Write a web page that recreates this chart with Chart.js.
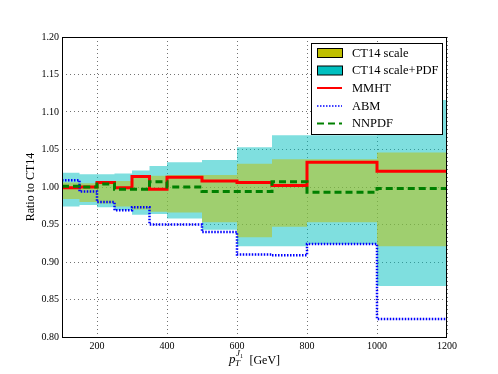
<!DOCTYPE html>
<html>
<head>
<meta charset="utf-8">
<script src="https://cdn.jsdelivr.net/npm/chart.js@4.4.1/dist/chart.umd.min.js"></script>
<style>
html, body { margin: 0; padding: 0; background: #fff; }
canvas { display: block; }
</style>
</head>
<body>
<canvas id="myChart" width="498" height="374"></canvas>
<script>
// bin edges in pT (GeV), one value per bin below
const binEdges = [100, 150, 200, 250, 300, 350, 400, 500, 600, 700, 800, 1000, 1200];

const mmht  = [0.999, 1.000, 1.006, 0.999, 1.014, 0.997, 1.013, 1.008, 1.006, 1.002, 1.033, 1.021];
const abm   = [1.009, 0.994, 0.980, 0.969, 0.973, 0.950, 0.950, 0.940, 0.910, 0.909, 0.924, 0.824];
const nnpdf = [1.001, 1.000, 1.004, 0.997, 0.997, 1.007, 1.000, 0.994, 0.994, 1.007, 0.993, 0.998];

const scaleHi = [1.006, 1.005, 1.007, 1.008, 1.014, 1.015, 1.016, 1.016, 1.031, 1.037, 1.037, 1.046];
const scaleLo = [0.984, 0.980, 0.978, 0.974, 0.970, 0.967, 0.966, 0.953, 0.933, 0.947, 0.953, 0.921];
const pdfHi   = [1.019, 1.017, 1.017, 1.018, 1.022, 1.028, 1.033, 1.036, 1.053, 1.069, 1.069, 1.116];
const pdfLo   = [0.974, 0.976, 0.973, 0.969, 0.963, 0.964, 0.958, 0.943, 0.921, 0.921, 0.924, 0.868];

const xTicks = [200, 400, 600, 800, 1000, 1200];
const yTicks = [0.80, 0.85, 0.90, 0.95, 1.00, 1.05, 1.10, 1.15, 1.20];

const legendLabels = ['CT14 scale', 'CT14 scale+PDF', 'MMHT', 'ABM', 'NNPDF'];

const SERIF = '"Liberation Serif", "DejaVu Serif", serif';

// histogram style: each bin value starts at its left edge, last one repeated at the right edge
function stepPoints(values) {
    const pts = values.map((v, i) => ({ x: binEdges[i], y: v }));
    pts.push({ x: binEdges[binEdges.length - 1], y: values[values.length - 1] });
    return pts;
}

function lineSet(label, values, color, width, dash) {
    return {
        label: label,
        data: stepPoints(values),
        borderColor: color,
        borderWidth: width,
        borderDash: dash,
        borderCapStyle: 'butt',
        pointRadius: 0,
        stepped: 'before',
        fill: false
    };
}

function bandSet(label, values, fillColor, fill) {
    return {
        label: label,
        data: stepPoints(values),
        borderColor: 'transparent',
        borderWidth: 0,
        backgroundColor: fillColor,
        pointRadius: 0,
        stepped: 'before',
        fill: fill
    };
}

const overlay = {
    id: 'overlay',
    afterDraw(chart) {
        const ctx = chart.ctx;
        const a = chart.chartArea;
        ctx.save();

        // axes frame
        ctx.strokeStyle = '#000';
        ctx.lineWidth = 1;
        ctx.setLineDash([]);
        ctx.strokeRect(a.left + 0.5, a.top + 0.5, a.right - a.left - 1, a.bottom - a.top);

        // legend box
        const lx = 311.5, ly = 43.5, lw = 131, lh = 91;
        ctx.fillStyle = '#fff';
        ctx.fillRect(lx, ly, lw, lh);
        ctx.strokeRect(lx, ly, lw, lh);

        const rowY = [53, 70.5, 88, 106, 123.5];
        const px = 317, pw = 25;
        // patches
        ctx.fillStyle = '#bfbf00';
        ctx.fillRect(px, rowY[0] - 4.5, pw, 9);
        ctx.strokeRect(px + 0.5, rowY[0] - 4.5, pw, 9);
        ctx.fillStyle = '#00bfbf';
        ctx.fillRect(px, rowY[1] - 4.5, pw, 9);
        ctx.strokeRect(px + 0.5, rowY[1] - 4.5, pw, 9);
        // line samples
        const samples = [
            { y: rowY[2], color: '#ff0000', width: 2, dash: [] },
            { y: rowY[3], color: '#0000ff', width: 1.5, dash: [1.5, 1.5] },
            { y: rowY[4], color: '#008000', width: 2, dash: [7, 4] }
        ];
        samples.forEach(s => {
            ctx.beginPath();
            ctx.strokeStyle = s.color;
            ctx.lineWidth = s.width;
            ctx.setLineDash(s.dash);
            ctx.moveTo(px, s.y);
            ctx.lineTo(px + pw, s.y);
            ctx.stroke();
        });
        ctx.setLineDash([]);

        ctx.fillStyle = '#000';
        ctx.font = '12.5px ' + SERIF;
        ctx.textAlign = 'left';
        ctx.textBaseline = 'middle';
        legendLabels.forEach((t, i) => ctx.fillText(t, 352, rowY[i] + 0.5));

        // y title
        ctx.save();
        ctx.translate(31, 187);
        ctx.rotate(-Math.PI / 2);
        ctx.textAlign = 'center';
        ctx.textBaseline = 'middle';
        ctx.font = '12px ' + SERIF;
        ctx.fillText('Ratio to CT14', 0, 0);
        ctx.restore();

        // x title: p_T^{J_1}  [GeV]
        ctx.textAlign = 'left';
        ctx.textBaseline = 'alphabetic';
        const fP = 'italic 13px ' + SERIF;
        const fS = 'italic 9px ' + SERIF;
        const fSS = '6px ' + SERIF;
        const fG = '12px ' + SERIF;
        ctx.font = fP; const wP = ctx.measureText('p').width;
        ctx.font = fS; const wT = ctx.measureText('T').width; const wJ = ctx.measureText('J').width;
        ctx.font = fSS; const w1 = ctx.measureText('1').width;
        ctx.font = fG; const wG = ctx.measureText('[GeV]').width;
        const scriptW = Math.max(wT, wJ + w1);
        const gap = 7;
        const total = wP + scriptW + gap + wG;
        let x = (a.left + a.right) / 2 - total / 2;
        const base = 364;
        ctx.font = fP; ctx.fillText('p', x, base - 1);
        x += wP;
        ctx.font = fS; ctx.fillText('T', x - 0.5, base + 2);
        ctx.fillText('J', x + 0.5, base - 8);
        ctx.font = fSS; ctx.fillText('1', x + 0.5 + wJ, base - 6.5);
        x += scriptW + gap;
        ctx.font = fG; ctx.fillText('[GeV]', x, base);

        ctx.restore();
    }
};

const ctx = document.getElementById('myChart').getContext('2d');
const chartInstance = new Chart(ctx, {
    type: 'line',
    data: {
        datasets: [
            lineSet('NNPDF', nnpdf, '#008000', 3, [7, 4]),
            lineSet('ABM', abm, '#0000ff', 2.5, [1.5, 1.5]),
            lineSet('MMHT', mmht, '#ff0000', 3, []),
            bandSet('CT14 scale', scaleHi, 'rgba(191,191,0,0.5)', '+1'),
            bandSet('scale low', scaleLo, 'transparent', false),
            bandSet('CT14 scale+PDF', pdfHi, 'rgba(0,191,191,0.5)', '+1'),
            bandSet('pdf low', pdfLo, 'transparent', false)
        ]
    },
    options: {
        responsive: false,
        animation: false,
        devicePixelRatio: 1,
        layout: {
            padding: { top: 37, right: 51, left: 0, bottom: 0 }
        },
        plugins: {
            legend: { display: false },
            tooltip: { enabled: false }
        },
        scales: {
            x: {
                type: 'linear',
                min: 100,
                max: 1200,
                afterBuildTicks: scale => { scale.ticks = xTicks.map(v => ({ value: v })); },
                afterFit: scale => { scale.height = 37; },
                grid: {
                    color: 'rgba(0,0,0,0.55)',
                    lineWidth: 1,
                    drawTicks: false
                },
                border: { display: false, dash: [1, 3] },
                ticks: {
                    color: '#000',
                    padding: 3,
                    maxRotation: 0,
                    font: { family: SERIF, size: 10 },
                    callback: v => String(v)
                }
            },
            y: {
                min: 0.8,
                max: 1.2,
                afterBuildTicks: scale => { scale.ticks = yTicks.map(v => ({ value: v })); },
                afterFit: scale => { scale.width = 62; },
                grid: {
                    color: 'rgba(0,0,0,0.55)',
                    lineWidth: 1,
                    drawTicks: false
                },
                border: { display: false, dash: [1, 3] },
                ticks: {
                    color: '#000',
                    padding: 3,
                    font: { family: SERIF, size: 10 },
                    callback: v => Number(v).toFixed(2)
                }
            }
        }
    },
    plugins: [overlay]
});
</script>
</body>
</html>
